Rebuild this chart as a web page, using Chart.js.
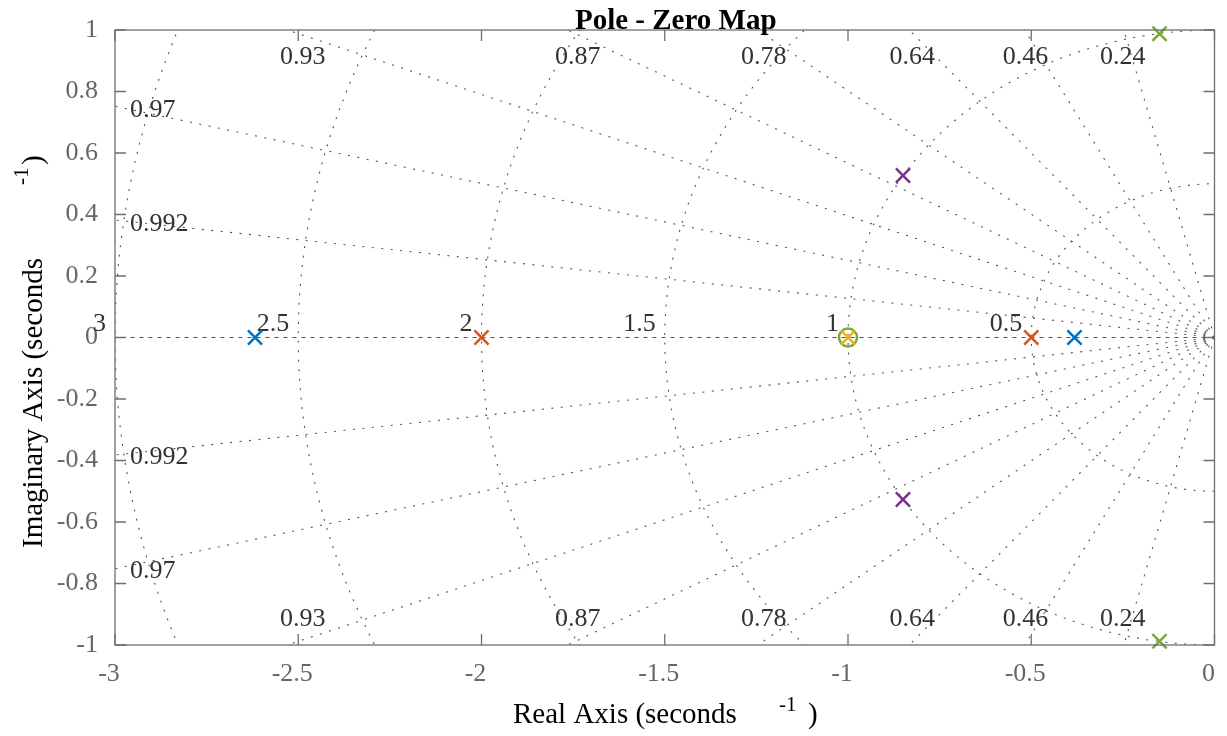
<!DOCTYPE html>
<html>
<head>
<meta charset="utf-8">
<script src="https://cdn.jsdelivr.net/npm/chart.js@4.4.0/dist/chart.umd.min.js"></script>
<style>
    html, body { margin: 0; padding: 0; background: #fff; }
</style>
</head>
<body>
<canvas id="pzChart" width="1227" height="736"></canvas>
<script>
const serif = "'Liberation Serif', 'Times New Roman', serif";

// axis limits
const xMin = -3, xMax = 0, xStep = 0.5;
const yMin = -1, yMax = 1, yStep = 0.2;

// damping / natural frequency grid
const dampingValues = [0.24, 0.46, 0.64, 0.78, 0.87, 0.93, 0.97, 0.992];
const dampingLabels = ["0.24", "0.46", "0.64", "0.78", "0.87", "0.93", "0.97", "0.992"];
const freqValues = [0.5, 1, 1.5, 2, 2.5, 3];
const freqLabels = ["0.5", "1", "1.5", "2", "2.5", "3"];

// poles and zeros, one pair of arrays per system
const poleRe1 = [-2.618, -0.382];
const poleIm1 = [0, 0];
const poleRe2 = [-2, -0.5];
const poleIm2 = [0, 0];
const poleRe3 = [-1];
const poleIm3 = [0];
const poleRe4 = [-0.85, -0.85];
const poleIm4 = [0.527, -0.527];
const poleRe5 = [-0.15, -0.15];
const poleIm5 = [0.988, -0.988];
const zeroRe5 = [-1];
const zeroIm5 = [0];

const seriesColors = ["#0072BD", "#D95319", "#EDB120", "#7E2F8E", "#77AC30"];

const toPoints = (re, im) => re.map((r, i) => ({ x: r, y: im[i] }));

const poleSet = (re, im, color) => ({
    data: toPoints(re, im),
    pointStyle: "crossRot",
    pointRadius: 10,
    pointBorderWidth: 2.5,
    borderColor: color,
    backgroundColor: color,
    showLine: false,
    clip: false,
});

// grid lines + labels, drawn under the markers
const pzGrid = {
    id: "pzGrid",
    beforeDatasetsDraw(chart) {
        const { ctx, chartArea: a, scales: { x, y } } = chart;
        const cx = x.getPixelForValue(0);
        const cy = y.getPixelForValue(0);

        ctx.save();
        ctx.beginPath();
        ctx.rect(a.left, a.top, a.width, a.height);
        ctx.clip();
        ctx.strokeStyle = "#555";
        ctx.lineWidth = 1.1;
        ctx.setLineDash([2, 7.5]);

        freqValues.forEach((w) => {
            const rx = cx - x.getPixelForValue(-w);
            const ry = y.getPixelForValue(-w) - cy;
            ctx.beginPath();
            ctx.ellipse(cx, cy, rx, ry, 0, Math.PI / 2, Math.PI * 1.5);
            ctx.stroke();
        });

        dampingValues.forEach((z) => {
            const s = Math.sqrt(1 - z * z);
            [1, -1].forEach((sign) => {
                ctx.beginPath();
                ctx.moveTo(cx, cy);
                ctx.lineTo(x.getPixelForValue(-z * 10), y.getPixelForValue(sign * s * 10));
                ctx.stroke();
            });
        });

        ctx.setLineDash([4, 5]);
        ctx.beginPath();
        ctx.moveTo(cx, cy);
        ctx.lineTo(x.getPixelForValue(xMin), cy);
        ctx.stroke();
        ctx.restore();

        // labels
        ctx.save();
        ctx.font = "26px " + serif;
        ctx.fillStyle = "#333";
        dampingValues.forEach((z, i) => {
            const s = Math.sqrt(1 - z * z);
            const tx = (-z / s) * yMax * 0.98;
            if (tx >= xMin) {
                ctx.textAlign = "center";
                ctx.textBaseline = "middle";
                const px = x.getPixelForValue(tx) - 3;
                ctx.fillText(dampingLabels[i], px, a.top + 27);
                ctx.fillText(dampingLabels[i], px, a.bottom - 26);
            } else {
                const ly = (s / z) * -xMin;
                ctx.textAlign = "left";
                ctx.textBaseline = "middle";
                ctx.fillText(dampingLabels[i], a.left + 15, y.getPixelForValue(ly) + 4);
                ctx.fillText(dampingLabels[i], a.left + 15, y.getPixelForValue(-ly) + 2);
            }
        });
        ctx.textAlign = "right";
        ctx.textBaseline = "alphabetic";
        freqValues.forEach((w, i) => {
            ctx.fillText(freqLabels[i], x.getPixelForValue(-w) - 9, cy - 7);
        });
        ctx.restore();
    },
    afterDraw(chart) {
        const { ctx, chartArea: a, scales: { x, y } } = chart;
        ctx.save();
        ctx.strokeStyle = "#6e6e6e";
        ctx.lineWidth = 1.3;
        ctx.strokeRect(a.left, a.top, a.width, a.height);
        // ticks pointing inward on all four sides
        ctx.beginPath();
        x.ticks.forEach((t) => {
            const px = x.getPixelForValue(t.value);
            ctx.moveTo(px, a.bottom);
            ctx.lineTo(px, a.bottom - 11);
            ctx.moveTo(px, a.top);
            ctx.lineTo(px, a.top + 11);
        });
        y.ticks.forEach((t) => {
            const py = y.getPixelForValue(t.value);
            ctx.moveTo(a.left, py);
            ctx.lineTo(a.left + 11, py);
            ctx.moveTo(a.right, py);
            ctx.lineTo(a.right - 11, py);
        });
        ctx.stroke();

        // title
        ctx.fillStyle = "#000";
        ctx.font = "bold 29px " + serif;
        ctx.textAlign = "center";
        ctx.textBaseline = "alphabetic";
        ctx.fillText("Pole - Zero Map", (a.left + a.right) / 2 + 11, 29);

        // x label
        ctx.textAlign = "left";
        ctx.font = "29px " + serif;
        ctx.fillText("Real Axis (seconds", 513, 723);
        ctx.fillText(")", 808, 723);
        ctx.font = "21px " + serif;
        ctx.fillText("-1", 779, 711);

        // y label
        ctx.translate(42, 548);
        ctx.rotate(-Math.PI / 2);
        ctx.font = "29px " + serif;
        ctx.fillText("Imaginary Axis (seconds", 0, 0);
        ctx.fillText(")", 383, 0);
        ctx.font = "21px " + serif;
        ctx.fillText("-1", 363, -14);
        ctx.restore();
    },
};

const tickText = (v) => {
    const r = Math.round(v * 10) / 10;
    return r === 0 ? "0" : String(r);
};

new Chart(document.getElementById("pzChart"), {
    type: "scatter",
    data: {
        datasets: [
            poleSet(poleRe3, poleIm3, seriesColors[2]),
            {
                data: toPoints(zeroRe5, zeroIm5),
                pointStyle: "circle",
                pointRadius: 9,
                pointBorderWidth: 2.5,
                borderColor: seriesColors[4],
                backgroundColor: "rgba(0,0,0,0)",
                showLine: false,
                clip: false,
            },
            poleSet(poleRe1, poleIm1, seriesColors[0]),
            poleSet(poleRe2, poleIm2, seriesColors[1]),
            poleSet(poleRe4, poleIm4, seriesColors[3]),
            poleSet(poleRe5, poleIm5, seriesColors[4]),
        ],
    },
    options: {
        responsive: false,
        animation: false,
        devicePixelRatio: 1,
        layout: { padding: { left: 0, right: 12, top: 30, bottom: 0 } },
        plugins: {
            legend: { display: false },
            tooltip: { enabled: false },
        },
        scales: {
            x: {
                type: "linear",
                min: xMin,
                max: xMax,
                grid: { display: false, drawTicks: false },
                border: { display: false },
                ticks: {
                    stepSize: xStep,
                    color: "#666",
                    font: { family: serif, size: 26 },
                    padding: 14,
                    labelOffset: -6,
                    maxRotation: 0,
                    callback: tickText,
                },
                afterFit: (s) => {
                    s.height = 91;
                    s.paddingLeft = 0;
                    s.paddingRight = 0;
                },
            },
            y: {
                type: "linear",
                min: yMin,
                max: yMax,
                grid: { display: false, drawTicks: false },
                border: { display: false },
                ticks: {
                    stepSize: yStep,
                    color: "#666",
                    font: { family: serif, size: 26 },
                    padding: 17,
                    callback: tickText,
                },
                afterFit: (s) => {
                    s.width = 115;
                    s.paddingTop = 0;
                    s.paddingBottom = 0;
                },
            },
        },
    },
    plugins: [pzGrid],
});
</script>
</body>
</html>
